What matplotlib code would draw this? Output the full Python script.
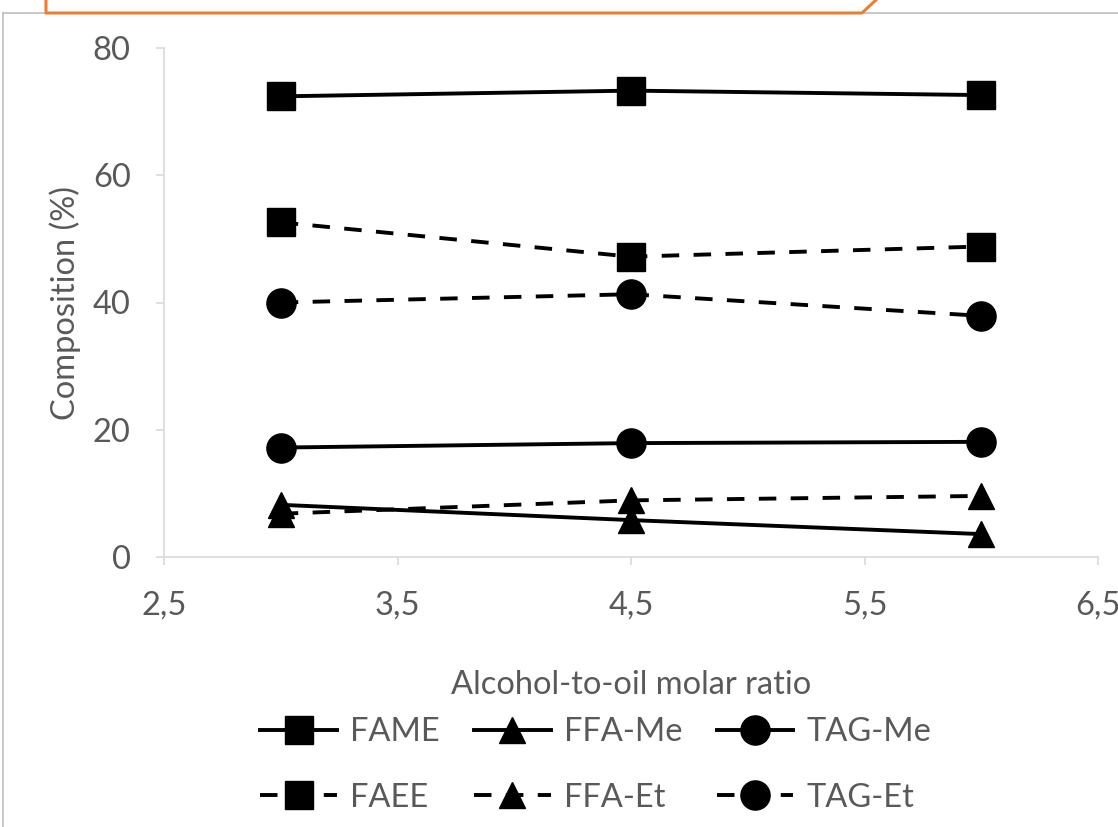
import matplotlib
matplotlib.use("Agg")
import matplotlib.pyplot as plt
from matplotlib.lines import Line2D

plt.rcParams['font.family'] = ['Lato', 'DejaVu Sans']

# data
ratio = [3.0, 4.5, 6.0]
fame = [72.4, 73.3, 72.6]
ffa_me = [8.2, 5.8, 3.6]
tag_me = [17.2, 17.9, 18.1]
faee = [52.6, 47.2, 48.8]
ffa_et = [6.8, 8.9, 9.6]
tag_et = [40.0, 41.3, 37.9]

xticks = [2.5, 3.5, 4.5, 5.5, 6.5]
xtick_labels = ["2,5", "3,5", "4,5", "5,5", "6,5"]
yticks = [0, 20, 40, 60, 80]

W, H = 1118, 827
fig = plt.figure(figsize=(W / 100, H / 100), dpi=100)
ax = fig.add_axes([164 / W, 1 - 557 / H, (1098 - 164) / W, (557 - 48) / H])

txt = '#595959'
grid = '#d9d9d9'
fs = 23.5
lw = 2.8
dash = (4.5, 3.7)

series = [
    (fame, 's', '-', 'FAME'),
    (faee, 's', '--', 'FAEE'),
    (ffa_me, '^', '-', 'FFA-Me'),
    (ffa_et, '^', '--', 'FFA-Et'),
    (tag_me, 'o', '-', 'TAG-Me'),
    (tag_et, 'o', '--', 'TAG-Et'),
]
sizes = {'s': 20, '^': 19, 'o': 21}

handles = []
for vals, mk, ls, name in series:
    line, = ax.plot(ratio, vals, color='black', lw=lw, marker=mk,
                    markersize=sizes[mk], label=name, clip_on=False)
    if ls == '--':
        line.set_dashes(dash)
    handles.append(line)

ax.set_xlim(2.5, 6.5)
ax.set_ylim(0, 80)
ax.set_xticks(xticks)
ax.set_xticklabels(xtick_labels)
ax.set_yticks(yticks)

for s in ['top', 'right']:
    ax.spines[s].set_visible(False)
for s in ['left', 'bottom']:
    ax.spines[s].set_color(grid)
    ax.spines[s].set_linewidth(1.2)

ax.tick_params(axis='both', colors=grid, labelcolor=txt, labelsize=fs,
               length=6, width=1.2, direction='out', pad=18)

ax.set_xlabel('Alcohol-to-oil molar ratio', fontsize=fs, color=txt)
ax.xaxis.set_label_coords(0.5, 1 - (685 - 48) / (557 - 48), transform=ax.transAxes)
ax.set_ylabel('Composition (%)', fontsize=fs, color=txt)
ax.yaxis.set_label_coords((65 - 164) / (1098 - 164), 0.5, transform=ax.transAxes)
ax.xaxis.label.set_va('center')
ax.yaxis.label.set_va('center')

leg = fig.legend(handles=handles, loc='upper left', ncol=3,
                 bbox_to_anchor=(244 / W, 1 - 701 / H), frameon=False,
                 fontsize=fs, handlelength=2.35, handletextpad=0.4,
                 columnspacing=1.05, labelspacing=1.08, borderpad=0)
for t in leg.get_texts():
    t.set_color(txt)

# chart border and the edge of the box above it
def fline(xs, ys, color, width):
    fig.add_artist(Line2D([x / W for x in xs], [1 - y / H for y in ys],
                          color=color, lw=width, transform=fig.transFigure))

fline([3, W], [13, 13], '#bfbfbf', 1.2)
fline([3, 3], [13, H], '#bfbfbf', 1.2)
fline([46, 46, 862, 876], [0, 13, 13, 0], '#ed7d31', 2.2)

fig.savefig('out.png', dpi=100)
